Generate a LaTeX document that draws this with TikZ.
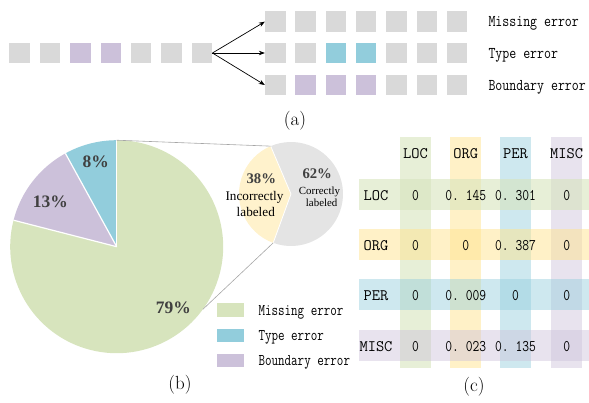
\documentclass[tikz,border=0pt]{standalone}
\usepackage{fontspec}
\usepackage{graphicx}
\usetikzlibrary{arrows.meta,calc}
\newfontfamily\tnr{Liberation Serif}
\definecolor{sqgray}{HTML}{D9D9D9}
\definecolor{errpurple}{HTML}{CCC1DA}
\definecolor{errblue}{HTML}{92CDDC}
\definecolor{errgreen}{HTML}{D7E4BD}
\definecolor{lblyellow}{HTML}{FFF2CC}
\definecolor{lblgray}{HTML}{E4E4E4}
\definecolor{pctgray}{HTML}{404040}
\definecolor{bandyellow}{HTML}{FFE38F}
\definecolor{linkgray}{HTML}{A6A6A6}
\newcommand{\stretchy}[2]{\scalebox{1}[#1]{#2}}
\begin{document}
\begin{tikzpicture}[x=1pt,y=1pt,
  tok/.style={minimum size=20.5pt,inner sep=0pt,fill=sqgray},
  arr/.style={line width=0.7pt,-{Stealth[length=6pt,width=4.5pt]}},
  monolab/.style={inner sep=0pt,font=\fontsize{13.5}{14}\selectfont\ttfamily},
  leglab/.style={inner sep=0pt,font=\fontsize{12.7}{14}\selectfont\ttfamily},
  tabhead/.style={inner sep=0pt,anchor=base,font=\fontsize{16}{18}\selectfont\ttfamily},
  tabnum/.style={inner sep=0pt,anchor=base,font=\fontsize{13.2}{15}\selectfont\ttfamily},
  bigpct/.style={inner sep=0pt,anchor=base,text=pctgray,font=\fontsize{17.5}{20}\selectfont\tnr\bfseries},
  smallpct/.style={inner sep=0pt,anchor=base,text=pctgray,font=\fontsize{14.7}{16}\selectfont\tnr\bfseries},
  caption/.style={inner sep=0pt,anchor=base,font=\fontsize{19}{21}\selectfont},
  legbox/.style={minimum width=26.7pt,minimum height=13.3pt,inner sep=0pt},
  slice/.style={draw=white,line width=1.2pt},
  link/.style={draw=linkgray,line width=0.6pt}
]
\useasboundingbox (0,0) rectangle (589,-402);

% ---------- (a) ----------
\foreach \i/\c in {0/sqgray,1/sqgray,2/errpurple,3/errpurple,4/sqgray,5/sqgray,6/sqgray}
  \node[tok,fill=\c] (L\i) at ({19.6+30.4*\i},-53) {};
\foreach \i/\c in {0/sqgray,1/sqgray,2/sqgray,3/sqgray,4/sqgray,5/sqgray,6/sqgray}
  \node[tok,fill=\c] (ra\i) at ({275.3+30.3*\i},-21.7) {};
\foreach \i/\c in {0/sqgray,1/sqgray,2/errblue,3/errblue,4/sqgray,5/sqgray,6/sqgray}
  \node[tok,fill=\c] (rb\i) at ({275.3+30.3*\i},-53) {};
\foreach \i/\c in {0/sqgray,1/errpurple,2/errpurple,3/errpurple,4/sqgray,5/sqgray,6/sqgray}
  \node[tok,fill=\c] (rc\i) at ({275.3+30.3*\i},-85) {};
\draw[arr] (L6.east) -- (ra0.west);
\draw[arr] (L6.east) -- (rb0.west);
\draw[arr] (L6.east) -- (rc0.west);
\node[monolab,anchor=base west] (ma) at (488.3,-26.7) {\stretchy{1.22}{Missing error}};
\node[monolab,anchor=base west] (mb) at (488.3,-58) {\stretchy{1.22}{Type error}};
\node[monolab,anchor=base west] (mc) at (488.3,-90) {\stretchy{1.22}{Boundary error}};
\node[caption] (capa) at (295,-125.5) {(a)};

% ---------- (b) ----------
\coordinate (bigc) at (116.7,-246.7);
\fill[errgreen] (bigc) -- ++(165.6:106.5pt) arc[start angle=165.6,end angle=450,radius=106.5pt] -- cycle;
\fill[errpurple] (bigc) -- ++(118.8:106.5pt) arc[start angle=118.8,end angle=165.6,radius=106.5pt] -- cycle;
\fill[errblue] (bigc) -- ++(90:106.5pt) arc[start angle=90,end angle=118.8,radius=106.5pt] -- cycle;
\draw[slice] (bigc) -- ++(90:106.5pt);
\draw[slice] (bigc) -- ++(118.8:106.5pt);
\draw[slice] (bigc) -- ++(165.6:106.5pt);
\node[bigpct] (p8) at (95.7,-167.3) {8\%};
\node[bigpct] (p13) at (50.3,-207.3) {13\%};
\node[bigpct] (p79) at (173.3,-313.3) {79\%};

\coordinate (smc) at (291,-194);
\fill[lblgray] (smc) -- ++(250:52pt) arc[start angle=250,end angle=473,radius=52pt] -- cycle;
\fill[lblyellow] (smc) -- ++(113:52pt) arc[start angle=113,end angle=250,radius=52pt] -- cycle;
\coordinate (bigtop) at ($(bigc)+(90:106.5pt)$);
\coordinate (bigbot) at ($(bigc)+(-36:106.5pt)$);
\coordinate (smtop) at ($(smc)+(113:52pt)$);
\coordinate (smbot) at ($(smc)+(250:52pt)$);
\draw[draw=white,line width=0.8pt] (smtop) -- (smc) -- (smbot);
\draw[link] (bigtop) -- (smtop);
\draw[link] (bigbot) -- (smbot);
\node[smallpct] (p38) at (261.3,-183.3) {38\%};
\node[inner sep=0pt,anchor=base,font=\fontsize{13.2}{16}\selectfont\tnr] (inc1) at (254.5,-200) {Incorrectly};
\node[inner sep=0pt,anchor=base,font=\fontsize{13.2}{16}\selectfont\tnr] (inc2) at (255.8,-216) {labeled};
\node[smallpct] (p62) at (317.2,-178.3) {62\%};
\node[inner sep=0pt,anchor=base,font=\fontsize{10.9}{12}\selectfont\tnr] (cor1) at (319.5,-194) {Correctly};
\node[inner sep=0pt,anchor=base,font=\fontsize{10.9}{12}\selectfont\tnr] (cor2) at (321.7,-206) {labeled};

\node[legbox,fill=errgreen] (lg1) at (230.7,-310) {};
\node[legbox,fill=errblue] (lg2) at (230.7,-335.3) {};
\node[legbox,fill=errpurple] (lg3) at (230.7,-360.7) {};
\node[leglab,anchor=base west] (lt1) at (258.3,-315) {\stretchy{1.29}{Missing error}};
\node[leglab,anchor=base west] (lt2) at (258.3,-340.3) {\stretchy{1.29}{Type error}};
\node[leglab,anchor=base west] (lt3) at (258.3,-365.7) {\stretchy{1.29}{Boundary error}};
\node[caption] (capb) at (180,-389) {(b)};

% ---------- (c) ----------
\fill[errgreen,opacity=0.6] (400,-137.3) rectangle (431,-368.3);
\fill[bandyellow,opacity=0.5] (450.3,-137.3) rectangle (481.3,-368.3);
\fill[errblue,opacity=0.45] (500,-137.3) rectangle (531,-368.3);
\fill[errpurple,opacity=0.45] (551.2,-137.3) rectangle (582.2,-368.3);
\fill[errgreen,opacity=0.6] (359,-179.3) rectangle (589,-210);
\fill[bandyellow,opacity=0.5] (359,-229) rectangle (589,-260);
\fill[errblue,opacity=0.45] (359,-279) rectangle (589,-310);
\fill[errpurple,opacity=0.45] (359,-330.3) rectangle (589,-361.3);

\node[tabhead] (h1) at (415.5,-158.3) {LOC};
\node[tabhead] (h2) at (465.8,-158.3) {ORG};
\node[tabhead] (h3) at (515.5,-158.3) {PER};
\node[tabhead] (h4) at (566.7,-158.3) {MISC};
\node[tabhead] (v1) at (376,-200) {LOC};
\node[tabhead] (v2) at (376,-250) {ORG};
\node[tabhead] (v3) at (376,-300) {PER};
\node[tabhead] (v4) at (376,-351.2) {MISC};

\node[tabnum] (n11) at (415.5,-200) {\stretchy{1.23}{0}};
\node[tabnum] (n12) at (465.8,-200) {\stretchy{1.23}{0.\ 145}};
\node[tabnum] (n13) at (515.5,-200) {\stretchy{1.23}{0.\ 301}};
\node[tabnum] (n14) at (566.7,-200) {\stretchy{1.23}{0}};
\node[tabnum] (n21) at (415.5,-250) {\stretchy{1.23}{0}};
\node[tabnum] (n22) at (465.8,-250) {\stretchy{1.23}{0}};
\node[tabnum] (n23) at (515.5,-250) {\stretchy{1.23}{0.\ 387}};
\node[tabnum] (n24) at (566.7,-250) {\stretchy{1.23}{0}};
\node[tabnum] (n31) at (415.5,-300) {\stretchy{1.23}{0}};
\node[tabnum] (n32) at (465.8,-300) {\stretchy{1.23}{0.\ 009}};
\node[tabnum] (n33) at (515.5,-300) {\stretchy{1.23}{0}};
\node[tabnum] (n34) at (566.7,-300) {\stretchy{1.23}{0}};
\node[tabnum] (n41) at (415.5,-351.2) {\stretchy{1.23}{0}};
\node[tabnum] (n42) at (465.8,-351.2) {\stretchy{1.23}{0.\ 023}};
\node[tabnum] (n43) at (515.5,-351.2) {\stretchy{1.23}{0.\ 135}};
\node[tabnum] (n44) at (566.7,-351.2) {\stretchy{1.23}{0}};
\node[caption] (capc) at (474,-391) {(c)};
\end{tikzpicture}
\end{document}
